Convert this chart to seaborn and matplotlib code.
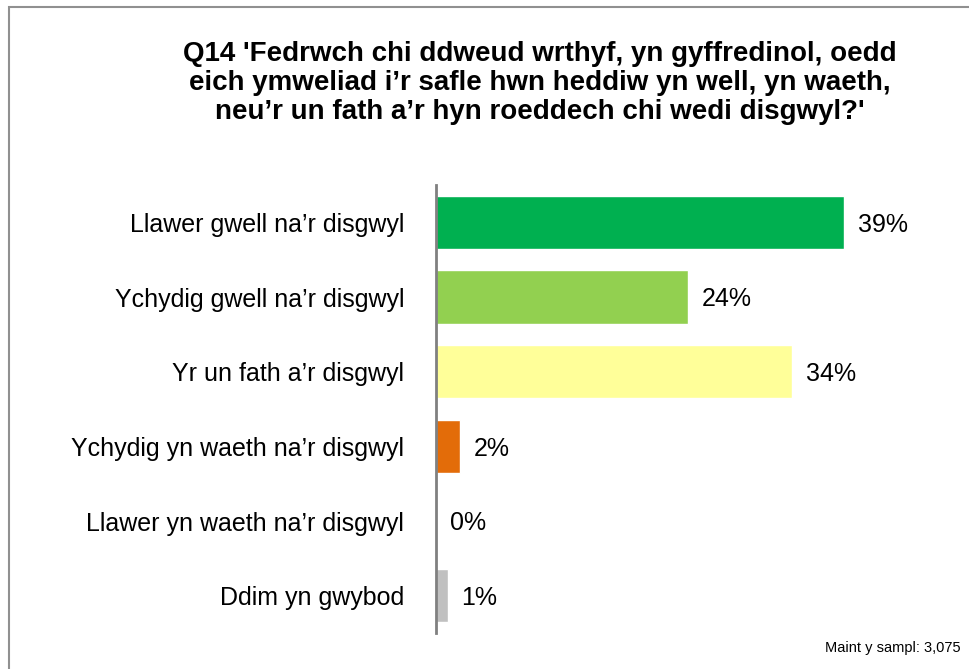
import matplotlib
matplotlib.use("Agg")
import matplotlib.pyplot as plt
from matplotlib.patches import Rectangle
import seaborn as sns
import pandas as pd

# Chart data
categories = [
    "Llawer gwell na\u2019r disgwyl",
    "Ychydig gwell na\u2019r disgwyl",
    "Yr un fath a\u2019r disgwyl",
    "Ychydig yn waeth na\u2019r disgwyl",
    "Llawer yn waeth na\u2019r disgwyl",
    "Ddim yn gwybod",
]
values = [39, 24, 34, 2, 0, 1]
bar_lengths = [39.0, 24.1, 34.0, 2.3, 0.0, 1.1]
colors = ["#00B050", "#92D050", "#FFFF99", "#E36C09", "#FFFFFF", "#C0C0C0"]

title = ("Q14 'Fedrwch chi ddweud wrthyf, yn gyffredinol, oedd\n"
         "eich ymweliad i\u2019r safle hwn heddiw yn well, yn waeth,\n"
         "neu\u2019r un fath a\u2019r hyn roeddech chi wedi disgwyl?'")
sample_note = "Maint y sampl: 3,075"

df = pd.DataFrame({"category": categories, "value": bar_lengths})

sns.set_style("white")
plt.rcParams["font.family"] = ["Liberation Sans", "DejaVu Sans"]

fig = plt.figure(figsize=(9.70, 6.69), dpi=100)
ax = fig.add_axes([436 / 970, 36 / 669, 0.51, 448 / 669])

sns.barplot(
    data=df,
    x="value",
    y="category",
    hue="category",
    palette=colors,
    saturation=1,
    legend=False,
    width=0.71,
    ax=ax,
)

ax.set_xlim(0, 47.3)
ax.set_ylim(5.5, -0.5)
ax.set_xlabel("")
ax.set_ylabel("")
ax.set_xticks([])
ax.tick_params(axis="y", length=0, pad=23, labelsize=18, labelcolor="#000000")

for side in ["top", "right", "bottom"]:
    ax.spines[side].set_visible(False)
ax.spines["left"].set_color("#808080")
ax.spines["left"].set_linewidth(2)

# Value labels next to the bars
for i, (length, val) in enumerate(zip(bar_lengths, values)):
    ax.text(length + 1.35, i, f"{val}%", va="center_baseline", ha="left",
            fontsize=18, color="#000000")

fig.text(0.557, 0.938, title, ha="center", va="top", fontsize=20,
         fontweight="bold", linespacing=1.13, color="#000000")
fig.text(0.99, 0.021, sample_note, ha="right", va="bottom", fontsize=10.5, color="#000000")

# Outer border of the chart area
fig.patches.append(Rectangle((9 / 970, -0.05), 1.2, 1.05 - 7 / 669,
                             transform=fig.transFigure, fill=False,
                             edgecolor="#909090", linewidth=1.5))

fig.savefig("out.png", dpi=100)
